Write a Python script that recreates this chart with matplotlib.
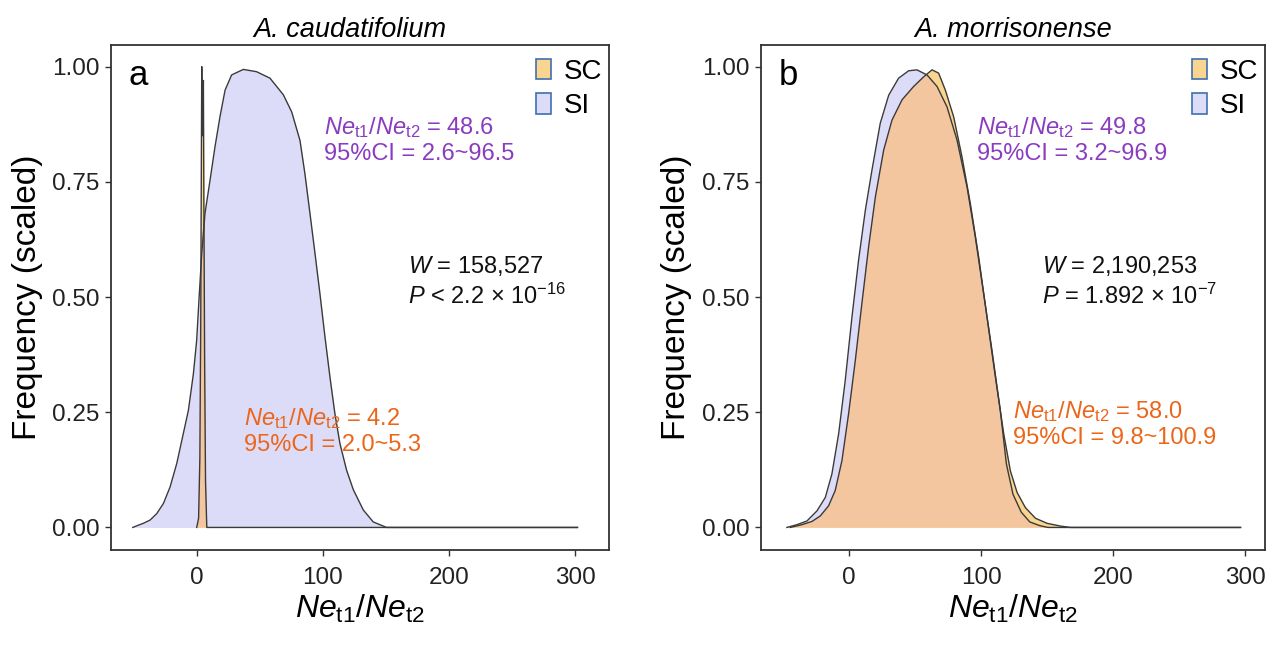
import matplotlib
matplotlib.use("Agg")
import matplotlib.pyplot as plt
from matplotlib.patches import Patch

plt.rcParams['font.family'] = ['Liberation Sans', 'DejaVu Sans']
plt.rcParams['mathtext.fontset'] = 'custom'
plt.rcParams['mathtext.rm'] = 'Liberation Sans'
plt.rcParams['mathtext.it'] = 'Liberation Sans:italic'
plt.rcParams['mathtext.default'] = 'regular'

# panel a: A. caudatifolium
a_si_x = [-50.7, -46.2, -42.3, -37.0, -31.7, -26.4, -21.1, -15.8, -10.6, -6.6, -2.6, 0, 1.8,
          4.0, 6.6, 10.6, 14.5, 18.5, 22.5, 27.7, 37.0, 47.5, 58.1, 68.7, 75.3, 81.9, 85.8,
          89.8, 93.8, 97.7, 101.7, 105.7, 109.6, 113.6, 118.9, 124.2, 132.1, 140.0, 150.6, 302]
a_si_y = [0, 0.005, 0.009, 0.016, 0.030, 0.052, 0.088, 0.139, 0.204, 0.254, 0.334, 0.407,
          0.494, 0.595, 0.682, 0.754, 0.826, 0.892, 0.949, 0.982, 0.994, 0.989, 0.975, 0.939,
          0.902, 0.840, 0.768, 0.682, 0.595, 0.508, 0.414, 0.326, 0.247, 0.182, 0.124, 0.082,
          0.038, 0.012, 0, 0]
a_sc_x = [0, 1.5, 2.5, 3.2, 3.7, 4.0, 4.4, 4.9, 5.3, 5.7, 6.3, 7.0, 8.0, 302]
a_sc_y = [0, 0.02, 0.15, 0.45, 0.8, 1.0, 0.85, 0.9, 0.97, 0.7, 0.35, 0.1, 0, 0]

# panel b: A. morrisonense
b_si_x = [-47.0, -39.4, -31.8, -24.2, -17.9, -12.9, -7.8, -2.8, 2.3, 7.3, 12.4, 17.4, 23.7,
          30.1, 37.6, 45.2, 51.5, 59.1, 66.7, 74.2, 81.8, 89.4, 95.7, 102.0, 108.3, 114.6,
          119.2, 124.2, 130.5, 136.9, 144.4, 150.7, 296.5]
b_si_y = [0, 0.006, 0.014, 0.036, 0.065, 0.116, 0.203, 0.319, 0.457, 0.580, 0.688, 0.775,
          0.877, 0.938, 0.975, 0.991, 0.993, 0.982, 0.957, 0.913, 0.841, 0.739, 0.630, 0.507,
          0.384, 0.254, 0.138, 0.072, 0.033, 0.012, 0.004, 0, 0]
b_sc_x = [-44.4, -35.6, -28.0, -21.7, -15.4, -10.4, -5.3, -0.3, 4.8, 9.8, 14.9, 20.0, 26.3,
          32.6, 40.2, 49.0, 56.6, 62.9, 67.9, 73.0, 79.3, 85.6, 91.9, 98.2, 104.5, 110.9,
          117.2, 122.2, 127.3, 133.6, 141.2, 150.0, 160.1, 167.7, 296.5]
b_sc_y = [0, 0.006, 0.013, 0.025, 0.047, 0.080, 0.145, 0.246, 0.362, 0.486, 0.609, 0.717,
          0.819, 0.884, 0.928, 0.957, 0.978, 0.993, 0.986, 0.949, 0.891, 0.804, 0.703, 0.587,
          0.457, 0.326, 0.203, 0.123, 0.076, 0.043, 0.020, 0.009, 0.003, 0, 0]

x_ticks = [0, 100, 200, 300]
y_ticks = [0, 0.25, 0.5, 0.75, 1.0]
y_ticklabels = ['0.00', '0.25', '0.50', '0.75', '1.00']

col_si = '#dcdcf8'
col_sc = '#fad58f'
col_both = '#f3c6a0'
col_line = '#3a3a3a'
col_purple = '#8a3cc0'
col_orange = '#ec6519'

ne_label = r'$\mathit{Ne}_{\mathrm{t1}}/\mathit{Ne}_{\mathrm{t2}}$'

panels = [
    dict(pos=[0.0869, 0.1551, 0.39, 0.7758], xlim=(-68, 327), title='A. caudatifolium', letter='a',
         title_x=0.48,
         si=(a_si_x, a_si_y), sc=(a_sc_x, a_sc_y),
         purple=(0.428, 0.812, '48.6', '2.6~96.5'),
         orange=(0.267, 0.236, '4.2', '2.0~5.3'),
         black=(0.596, 0.532, '158,527', r'$\mathit{P}$ < 2.2 × 10$^{-16}$')),
    dict(pos=[0.5957, 0.1551, 0.3949, 0.7758], xlim=(-66.8, 315), title='A. morrisonense', letter='b',
         title_x=0.5,
         si=(b_si_x, b_si_y), sc=(b_sc_x, b_sc_y),
         purple=(0.429, 0.812, '49.8', '3.2~96.9'),
         orange=(0.5, 0.25, '58.0', '9.8~100.9'),
         black=(0.558, 0.532, '2,190,253', r'$\mathit{P}$ = 1.892 × 10$^{-7}$')),
]

fig = plt.figure(figsize=(12.77, 6.51), dpi=100)

for p in panels:
    ax = fig.add_axes(p['pos'])
    sx, sy = p['si']
    cx, cy = p['sc']
    si_poly = ax.fill_between(sx, sy, 0, color=col_si, lw=0)
    ax.fill_between(cx, cy, 0, color=col_sc, lw=0)
    both = ax.fill_between(cx, cy, 0, color=col_both, lw=0)
    both.set_clip_path(si_poly.get_paths()[0], ax.transData)
    ax.plot(sx, sy, color=col_line, lw=1)
    ax.plot(cx, cy, color=col_line, lw=1)

    ax.set_xlim(*p['xlim'])
    ax.set_ylim(-0.049, 1.047)
    ax.set_xticks(x_ticks)
    ax.set_yticks(y_ticks)
    ax.set_yticklabels(y_ticklabels)
    ax.tick_params(labelsize=17.5, length=4, width=1, color='#333333', labelcolor='#222222')
    ax.tick_params(axis='x', pad=8)
    ax.tick_params(axis='y', pad=4)
    for s in ax.spines.values():
        s.set_color('#333333')
        s.set_linewidth(1.3)

    ax.set_title(p['title'], style='italic', fontsize=19.5, pad=6, x=p['title_x'])
    ax.set_xlabel(ne_label, fontsize=23, labelpad=3)
    ax.set_ylabel('Frequency (scaled)', fontsize=24, labelpad=7)
    ax.text(0.035, 0.94, p['letter'], transform=ax.transAxes, fontsize=25, va='center', ha='left')

    px, py, v, ci = p['purple']
    ax.text(px, py, ne_label + ' = ' + v + '\n95%CI = ' + ci, transform=ax.transAxes,
            color=col_purple, fontsize=17, va='center', ha='left', linespacing=1.2)
    ox, oy, v, ci = p['orange']
    ax.text(ox, oy, ne_label + ' = ' + v + '\n95%CI = ' + ci, transform=ax.transAxes,
            color=col_orange, fontsize=17, va='center', ha='left', linespacing=1.2)
    bx, by, w, pv = p['black']
    ax.text(bx, by, r'$\mathit{W}$ = ' + w + '\n' + pv, transform=ax.transAxes,
            color='#111111', fontsize=17, va='center', ha='left', linespacing=1.25)

    handles = [Patch(facecolor=col_sc, edgecolor='#3f6fb0', lw=1.2, label='SC'),
               Patch(facecolor=col_si, edgecolor='#3f6fb0', lw=1.2, label='SI')]
    ax.legend(handles=handles, loc='upper right', bbox_to_anchor=(1.022, 1.008), frameon=False,
              fontsize=20, handlelength=0.55, handleheight=0.75, handletextpad=0.45,
              labelspacing=0.3, borderaxespad=0.35, borderpad=0.3)

fig.savefig('out.png', dpi=100)
